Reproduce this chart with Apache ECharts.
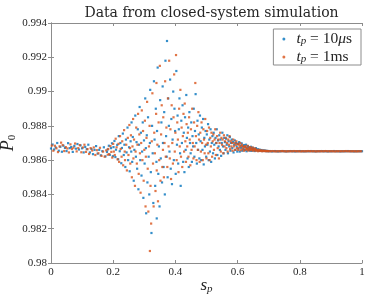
<!DOCTYPE html>
<html><head><meta charset="utf-8">
<script src="https://cdn.jsdelivr.net/npm/echarts@6/dist/echarts.min.js"></script>
<style>html,body{margin:0;padding:0;background:#fff}#c{width:374px;height:301px}</style>
</head><body><div id="c"></div>
<script>
const titleText = 'Data from closed-system simulation';
const xTicks = [0, 0.2, 0.4, 0.6, 0.8, 1];
const yTicks = [0.98, 0.982, 0.984, 0.986, 0.988, 0.99, 0.992, 0.994];

// t_p = 10 µs  [s_p, P_0]
const blueLeft = [[0.000,0.98668],[0.005,0.98691],[0.010,0.98662],[0.015,0.98674],[0.020,0.98700],[0.025,0.98655],[0.030,0.98678],[0.035,0.98649],[0.040,0.98684],[0.045,0.98671],[0.050,0.98653],[0.055,0.98699],[0.060,0.98670],[0.065,0.98676],[0.070,0.98648],[0.075,0.98683],[0.080,0.98667],[0.085,0.98694],[0.090,0.98662],[0.095,0.98686],[0.100,0.98669],[0.105,0.98645],[0.110,0.98677],[0.115,0.98664],[0.120,0.98690],[0.125,0.98645],[0.130,0.98665],[0.135,0.98635],[0.140,0.98660],[0.145,0.98682],[0.150,0.98638],[0.155,0.98660],[0.160,0.98628],[0.165,0.98652],[0.170,0.98675],[0.175,0.98622],[0.180,0.98648]];
const blueMid = [[0.182,0.98662],[0.186,0.98684],[0.189,0.98631],[0.193,0.98670],[0.196,0.98698],[0.199,0.98623],
[0.201,0.98676],[0.204,0.98712],[0.207,0.98618],[0.209,0.98661],[0.213,0.98689],[0.216,0.98605],[0.218,0.98740],
[0.221,0.98652],[0.223,0.98700],[0.226,0.98582],[0.228,0.98671],[0.231,0.98755],[0.234,0.98630],[0.236,0.98690],[0.239,0.98560],
[0.241,0.98720],[0.243,0.98645],[0.246,0.98790],[0.248,0.98600],[0.251,0.98675],[0.253,0.98535],[0.256,0.98710],[0.258,0.98650],[0.259,0.98820],
[0.261,0.98590],[0.263,0.98735],[0.266,0.98480],[0.268,0.98660],[0.271,0.98860],[0.273,0.98620],[0.275,0.98705],[0.277,0.98550],[0.279,0.98780],
[0.281,0.98430],[0.283,0.98690],[0.285,0.98910],[0.287,0.98600],[0.289,0.98760],[0.291,0.98510],[0.293,0.98650],[0.295,0.98820],[0.297,0.98380],[0.299,0.98715],
[0.301,0.98580],[0.303,0.98960],[0.305,0.98670],[0.306,0.98290],[0.308,0.98745],[0.310,0.98470],[0.312,0.98850],[0.314,0.98620],[0.316,0.98400],[0.318,0.98700],[0.319,0.99010],
[0.321,0.98530],[0.323,0.98175],[0.325,0.98800],[0.327,0.98640],[0.329,0.98350],[0.331,0.99060],[0.333,0.98720],[0.335,0.98450],[0.337,0.98900],[0.339,0.98590],[0.340,0.98260],
[0.341,0.98770],[0.343,0.99140],[0.345,0.98520],[0.347,0.98680],[0.349,0.98330],[0.351,0.98950],[0.353,0.98610],[0.355,0.98820],[0.357,0.98470],[0.359,0.99030],[0.360,0.98700],
[0.362,0.98560],[0.364,0.98880],[0.366,0.98400],[0.368,0.99180],[0.370,0.98740],[0.372,0.98620],[0.373,0.99295],[0.375,0.98500],[0.377,0.98960],[0.379,0.98800],
[0.381,0.98650],[0.383,0.99070],[0.385,0.98550],[0.387,0.98840],[0.389,0.98460],[0.391,0.98720],[0.393,0.99000],[0.395,0.98600],[0.397,0.98900],[0.399,0.98770],
[0.401,0.98520],[0.403,0.99120],[0.405,0.98690],[0.407,0.98860],[0.409,0.98580],[0.411,0.98780],[0.413,0.98960],[0.415,0.98640],[0.417,0.98450],[0.419,0.98830],
[0.421,0.98700],[0.423,0.98920],[0.425,0.98590],[0.427,0.98760],[0.429,0.98530],[0.431,0.98850],[0.433,0.98660],[0.435,0.98980],[0.437,0.98730],[0.439,0.98610],
[0.441,0.98790],[0.443,0.98560],[0.445,0.98880],[0.447,0.98700],[0.449,0.98640],[0.451,0.98820],[0.453,0.98590],[0.455,0.98740],[0.457,0.98680],[0.459,0.98900],
[0.461,0.98620],[0.463,0.98770],[0.465,0.98985],[0.467,0.98700],[0.469,0.98580],[0.471,0.98830],[0.473,0.98660],[0.475,0.98750],[0.477,0.98610],[0.479,0.98860],
[0.481,0.98710],[0.483,0.98600],[0.485,0.98790],[0.487,0.98660],[0.489,0.98840],[0.491,0.98575],[0.493,0.98730],[0.495,0.98680],[0.497,0.98770],[0.499,0.98620],
[0.501,0.98750],[0.503,0.98690],[0.505,0.98810],[0.507,0.98600],[0.509,0.98720],[0.511,0.98650],[0.513,0.98780],[0.515,0.98590],[0.517,0.98700],[0.519,0.98740],
[0.521,0.98640],[0.523,0.98760],[0.525,0.98690],[0.527,0.98610],[0.529,0.98730],[0.531,0.98700],[0.533,0.98780],[0.535,0.98630],[0.537,0.98715],[0.539,0.98680],
[0.541,0.98745],[0.543,0.98660],[0.545,0.98720],[0.547,0.98625],[0.549,0.98700],[0.551,0.98760],[0.553,0.98680],[0.555,0.98640],[0.557,0.98730],[0.559,0.98705],
[0.561,0.98660],[0.563,0.98725],[0.565,0.98690],[0.567,0.98745],[0.569,0.98640],[0.571,0.98710],[0.573,0.98680],[0.575,0.98735],[0.577,0.98655],[0.579,0.98700],
[0.581,0.98720],[0.583,0.98670],[0.585,0.98705],[0.587,0.98645],[0.589,0.98690],[0.591,0.98715],[0.593,0.98660],[0.595,0.98700],[0.597,0.98680],[0.599,0.98650],
[0.601,0.98695],[0.603,0.98668],[0.605,0.98705],[0.607,0.98650],[0.609,0.98685],[0.611,0.98672],[0.613,0.98698],[0.615,0.98655],[0.617,0.98680],[0.619,0.98665],
[0.621,0.98688],[0.623,0.98658],[0.625,0.98676],[0.627,0.98690],[0.629,0.98652],[0.631,0.98670],[0.633,0.98682],[0.635,0.98660],[0.637,0.98674],[0.639,0.98655],
[0.641,0.98668],[0.643,0.98678],[0.645,0.98654],[0.647,0.98665],[0.649,0.98672],[0.651,0.98658],[0.653,0.98667],[0.655,0.98653],[0.657,0.98663],[0.659,0.98670],
[0.662,0.98656],[0.665,0.98664],[0.668,0.98654],[0.671,0.98661],[0.674,0.98655],[0.677,0.98659],[0.680,0.98653],[0.683,0.98657],[0.686,0.98654],[0.689,0.98656],[0.692,0.98652],[0.695,0.98654],[0.698,0.98653]];
const blueTail = [[0.700,0.98652],[0.705,0.98653],[0.710,0.98651],[0.715,0.98652],[0.720,0.98653],[0.725,0.98652],[0.730,0.98651],[0.735,0.98652],[0.740,0.98652],[0.745,0.98653],[0.750,0.98652],[0.755,0.98651],[0.760,0.98652],[0.765,0.98652],[0.770,0.98653],[0.775,0.98652],[0.780,0.98652],[0.785,0.98651],[0.790,0.98652],[0.795,0.98652],[0.800,0.98653],[0.805,0.98652],[0.810,0.98652],[0.815,0.98651],[0.820,0.98652],[0.825,0.98652],[0.830,0.98652],[0.835,0.98653],[0.840,0.98652],[0.845,0.98652],[0.850,0.98651],[0.855,0.98652],[0.860,0.98652],[0.865,0.98652],[0.870,0.98653],[0.875,0.98652],[0.880,0.98652],[0.885,0.98652],[0.890,0.98651],[0.895,0.98652],[0.900,0.98652],[0.905,0.98652],[0.910,0.98653],[0.915,0.98652],[0.920,0.98652],[0.925,0.98652],[0.930,0.98651],[0.935,0.98652],[0.940,0.98652],[0.945,0.98652],[0.950,0.98652],[0.955,0.98653],[0.960,0.98652],[0.965,0.98652],[0.970,0.98652],[0.975,0.98651],[0.980,0.98652],[0.985,0.98652],[0.990,0.98652],[0.995,0.98652],[1.000,0.98652]];

// t_p = 1 ms  [s_p, P_0]
const orangeLeft = [[0.0025,0.98685],[0.0075,0.98655],[0.0125,0.98684],[0.0175,0.98669],[0.0225,0.98647],[0.0275,0.98680],[0.0325,0.98702],[0.0375,0.98688],[0.0425,0.98653],[0.0475,0.98676],[0.0525,0.98668],[0.0575,0.98645],[0.0625,0.98692],[0.0675,0.98665],[0.0725,0.98673],[0.0775,0.98697],[0.0825,0.98651],[0.0875,0.98670],[0.0925,0.98688],[0.0975,0.98646],[0.1025,0.98674],[0.1075,0.98690],[0.1125,0.98648],[0.1175,0.98664],[0.1225,0.98636],[0.1275,0.98670],[0.1325,0.98656],[0.1375,0.98674],[0.1425,0.98630],[0.1475,0.98658],[0.1525,0.98640],[0.1575,0.98672],[0.1625,0.98625],[0.1675,0.98650],[0.1725,0.98620],[0.1775,0.98657],[0.1825,0.98632]];
const orangeMid = [[0.184,0.98665],[0.187,0.98635],[0.191,0.98682],[0.194,0.98648],[0.197,0.98615],[0.200,0.98695],
[0.202,0.98650],[0.205,0.98630],[0.208,0.98725],[0.211,0.98675],[0.214,0.98605],[0.217,0.98695],[0.219,0.98590],
[0.222,0.98740],[0.224,0.98665],[0.227,0.98620],[0.229,0.98710],[0.232,0.98570],[0.235,0.98775],[0.237,0.98650],[0.238,0.98600],
[0.242,0.98690],[0.244,0.98540],[0.247,0.98730],[0.249,0.98630],[0.252,0.98805],[0.254,0.98670],[0.255,0.98580],[0.257,0.98745],[0.260,0.98500],
[0.262,0.98680],[0.264,0.98840],[0.265,0.98610],[0.267,0.98720],[0.270,0.98450],[0.272,0.98650],[0.274,0.98790],[0.276,0.98580],[0.278,0.98690],[0.280,0.98870],
[0.282,0.98520],[0.284,0.98750],[0.286,0.98640],[0.288,0.98410],[0.290,0.98700],[0.292,0.98890],[0.294,0.98600],[0.296,0.98770],[0.298,0.98480],[0.300,0.98660],
[0.302,0.98830],[0.304,0.98330],[0.305,0.98620],[0.307,0.98730],[0.309,0.98940],[0.311,0.98550],[0.313,0.98300],[0.315,0.98680],[0.317,0.98800],[0.318,0.98070],[0.320,0.98450],
[0.322,0.98230],[0.324,0.98710],[0.326,0.98990],[0.328,0.98580],[0.330,0.98330],[0.332,0.98760],[0.334,0.98640],[0.336,0.98420],[0.338,0.98870],[0.339,0.99050],[0.340,0.98540],
[0.342,0.98690],[0.344,0.98360],[0.346,0.98820],[0.348,0.98600],[0.350,0.99150],[0.352,0.98480],[0.354,0.98750],[0.356,0.98920],[0.358,0.98560],[0.360,0.98660],
[0.361,0.98850],[0.363,0.98500],[0.365,0.98700],[0.367,0.99060],[0.369,0.98620],[0.371,0.98790],[0.374,0.98560],[0.376,0.98960],[0.378,0.98680],[0.380,0.99180],
[0.382,0.98610],[0.384,0.98780],[0.386,0.98490],[0.388,0.98920],[0.390,0.98700],[0.392,0.98580],[0.394,0.98850],[0.396,0.99100],[0.398,0.98650],[0.400,0.98760],
[0.402,0.99213],[0.404,0.98600],[0.406,0.98820],[0.408,0.98720],[0.410,0.98530],[0.412,0.98900],[0.414,0.98680],[0.416,0.99010],[0.418,0.98620],[0.420,0.98790],
[0.422,0.98560],[0.424,0.98740],[0.426,0.98870],[0.428,0.98650],[0.430,0.98930],[0.432,0.98710],[0.434,0.98590],[0.436,0.98810],[0.438,0.98680],[0.440,0.98760],
[0.442,0.98620],[0.444,0.98850],[0.446,0.98720],[0.448,0.98570],[0.450,0.98780],[0.452,0.98660],[0.454,0.98900],[0.456,0.98700],[0.458,0.98610],[0.460,0.98820],
[0.462,0.98680],[0.464,0.99050],[0.466,0.98740],[0.468,0.98600],[0.470,0.98800],[0.472,0.98660],[0.474,0.98880],[0.476,0.98720],[0.478,0.98590],[0.480,0.98760],
[0.482,0.98650],[0.484,0.98820],[0.486,0.98700],[0.488,0.98600],[0.490,0.98780],[0.492,0.98720],[0.494,0.98640],[0.496,0.98840],[0.498,0.98690],[0.500,0.98610],
[0.502,0.98770],[0.504,0.98700],[0.506,0.98640],[0.508,0.98790],[0.510,0.98600],[0.512,0.98730],[0.514,0.98680],[0.516,0.98760],[0.518,0.98620],[0.520,0.98710],
[0.522,0.98750],[0.524,0.98660],[0.526,0.98720],[0.528,0.98780],[0.530,0.98630],[0.532,0.98700],[0.534,0.98740],[0.536,0.98670],[0.538,0.98720],[0.540,0.98610],
[0.542,0.98700],[0.544,0.98760],[0.546,0.98650],[0.548,0.98730],[0.550,0.98690],[0.552,0.98720],[0.554,0.98640],[0.556,0.98745],[0.558,0.98680],[0.560,0.98710],
[0.562,0.98730],[0.564,0.98670],[0.566,0.98700],[0.568,0.98650],[0.570,0.98720],[0.572,0.98690],[0.574,0.98740],[0.576,0.98665],[0.578,0.98710],[0.580,0.98680],
[0.582,0.98700],[0.584,0.98655],[0.586,0.98720],[0.588,0.98680],[0.590,0.98700],[0.592,0.98660],[0.594,0.98690],[0.596,0.98710],[0.598,0.98670],[0.600,0.98695],
[0.602,0.98660],[0.604,0.98690],[0.606,0.98675],[0.608,0.98700],[0.610,0.98658],[0.612,0.98682],[0.614,0.98690],[0.616,0.98665],[0.618,0.98678],[0.620,0.98655],
[0.622,0.98675],[0.624,0.98682],[0.626,0.98660],[0.628,0.98672],[0.630,0.98665],[0.632,0.98684],[0.634,0.98656],[0.636,0.98670],[0.638,0.98662],[0.640,0.98676],
[0.642,0.98658],[0.644,0.98668],[0.646,0.98662],[0.648,0.98674],[0.650,0.98655],[0.652,0.98665],[0.654,0.98660],[0.656,0.98668],[0.658,0.98654],[0.660,0.98662],
[0.663,0.98658],[0.666,0.98652],[0.669,0.98660],[0.672,0.98654],[0.675,0.98657],[0.678,0.98652],[0.681,0.98656],[0.684,0.98653],[0.687,0.98655],[0.690,0.98652],[0.693,0.98654],[0.696,0.98652],[0.699,0.98653]];
const orangeTail = [[0.7025,0.98652],[0.7075,0.98652],[0.7125,0.98653],[0.7175,0.98652],[0.7225,0.98651],[0.7275,0.98652],[0.7325,0.98652],[0.7375,0.98652],[0.7425,0.98653],[0.7475,0.98652],[0.7525,0.98652],[0.7575,0.98651],[0.7625,0.98652],[0.7675,0.98652],[0.7725,0.98652],[0.7775,0.98652],[0.7825,0.98653],[0.7875,0.98652],[0.7925,0.98652],[0.7975,0.98652],[0.8025,0.98651],[0.8075,0.98652],[0.8125,0.98652],[0.8175,0.98652],[0.8225,0.98652],[0.8275,0.98653],[0.8325,0.98652],[0.8375,0.98652],[0.8425,0.98652],[0.8475,0.98652],[0.8525,0.98651],[0.8575,0.98652],[0.8625,0.98652],[0.8675,0.98652],[0.8725,0.98652],[0.8775,0.98652],[0.8825,0.98653],[0.8875,0.98652],[0.8925,0.98652],[0.8975,0.98652],[0.9025,0.98652],[0.9075,0.98652],[0.9125,0.98651],[0.9175,0.98652],[0.9225,0.98652],[0.9275,0.98652],[0.9325,0.98652],[0.9375,0.98652],[0.9425,0.98652],[0.9475,0.98653],[0.9525,0.98652],[0.9575,0.98652],[0.9625,0.98652],[0.9675,0.98652],[0.9725,0.98652],[0.9775,0.98652],[0.9825,0.98651],[0.9875,0.98652],[0.9925,0.98652],[0.9975,0.98652]];

const blueName = '10us';
const orangeName = '1ms';
const BLUE = '#0072BD', ORANGE = '#D95319';
const SERIF = '"Liberation Serif", "DejaVu Serif", serif';
const AX = '#8c8c8c', TXT = '#262626';

const chart = echarts.init(document.getElementById('c'), null, {renderer: 'canvas'});
const fmt = v => String(+(+v).toFixed(3));
const baseAxis = {
  axisLine: {show: true, lineStyle: {color: AX, width: 1}},
  axisTick: {show: true, inside: true, length: 3, lineStyle: {color: AX}},
  splitLine: {show: false}
};
const LF = 15.5;
chart.setOption({
  animation: false,
  backgroundColor: '#fff',
  title: {
    text: titleText, left: 206.5, top: 1, textAlign: 'center',
    textStyle: {fontFamily: '"DejaVu Serif", serif', fontSize: 14, fontWeight: 'normal', color: TXT}
  },
  grid: {left: 51, right: 12, top: 23, bottom: 38, containLabel: false, outerBoundsMode: 'none'},
  legend: {
    orient: 'vertical', right: 13, top: 29,
    data: [blueName, orangeName],
    icon: 'circle', itemWidth: 3, itemHeight: 3, itemGap: 1,
    borderColor: '#8c8c8c', borderWidth: 1, borderRadius: 0,
    padding: [1, 9, 0, 9], backgroundColor: '#fff',
    formatter: n => n === blueName ? '{g| }{i|t}{sub|p}{n| = 10}{i|μ}{n|s}' : '{g| }{i|t}{sub|p}{n| = 1ms}',
    textStyle: {
      fontFamily: SERIF, fontSize: LF, color: TXT, lineHeight: 16,
      rich: {
        g: {width: 6, fontSize: LF, lineHeight: 16},
        i: {fontFamily: SERIF, fontStyle: 'italic', fontSize: LF, color: TXT, lineHeight: 16},
        n: {fontFamily: SERIF, fontSize: LF, color: TXT, lineHeight: 16},
        sub: {fontFamily: SERIF, fontStyle: 'italic', fontSize: 11, color: TXT, verticalAlign: 'bottom', lineHeight: 16, padding: [6, 0, 0, 0]}
      }
    }
  },
  xAxis: [
    Object.assign({}, baseAxis, {
      type: 'value', min: 0, max: 1, interval: 0.2, position: 'bottom',
      axisLabel: {fontFamily: SERIF, fontSize: 11, color: TXT, margin: 4, formatter: fmt},
      name: '{i|s}{sub|p}', nameLocation: 'middle', nameGap: 13, nameMoveOverlap: false,
      nameTextStyle: {rich: {
        i: {fontFamily: SERIF, fontStyle: 'italic', fontSize: 17, color: TXT},
        sub: {fontFamily: SERIF, fontStyle: 'italic', fontSize: 11, color: TXT, padding: [8, 0, 0, 0]}
      }}
    }),
    Object.assign({}, baseAxis, {
      type: 'value', min: 0, max: 1, interval: 0.2, position: 'top',
      axisLabel: {show: false}
    })
  ],
  yAxis: [
    Object.assign({}, baseAxis, {
      type: 'value', min: 0.98, max: 0.994, interval: 0.002, position: 'left',
      axisLabel: {fontFamily: SERIF, fontSize: 11, color: TXT, margin: 4, formatter: fmt},
      name: '{i|P}{sub|0}', nameLocation: 'middle', nameGap: 33, nameMoveOverlap: false,
      nameTextStyle: {rich: {
        i: {fontFamily: SERIF, fontStyle: 'italic', fontSize: 18, color: TXT},
        sub: {fontFamily: SERIF, fontSize: 11, color: TXT, padding: [8, 0, 0, 0]}
      }}
    }),
    Object.assign({}, baseAxis, {
      type: 'value', min: 0.98, max: 0.994, interval: 0.002, position: 'right',
      axisLabel: {show: false}
    })
  ],
  series: [
    {name: blueName, type: 'scatter', xAxisIndex: 0, yAxisIndex: 0, symbol: 'rect', symbolSize: 2.2,
     itemStyle: {color: BLUE}, data: [].concat(blueLeft, blueMid, blueTail)},
    {name: orangeName, type: 'scatter', xAxisIndex: 0, yAxisIndex: 0, symbol: 'rect', symbolSize: 2.2,
     itemStyle: {color: ORANGE}, data: [].concat(orangeLeft, orangeMid, orangeTail)}
  ]
});
</script></body></html>
